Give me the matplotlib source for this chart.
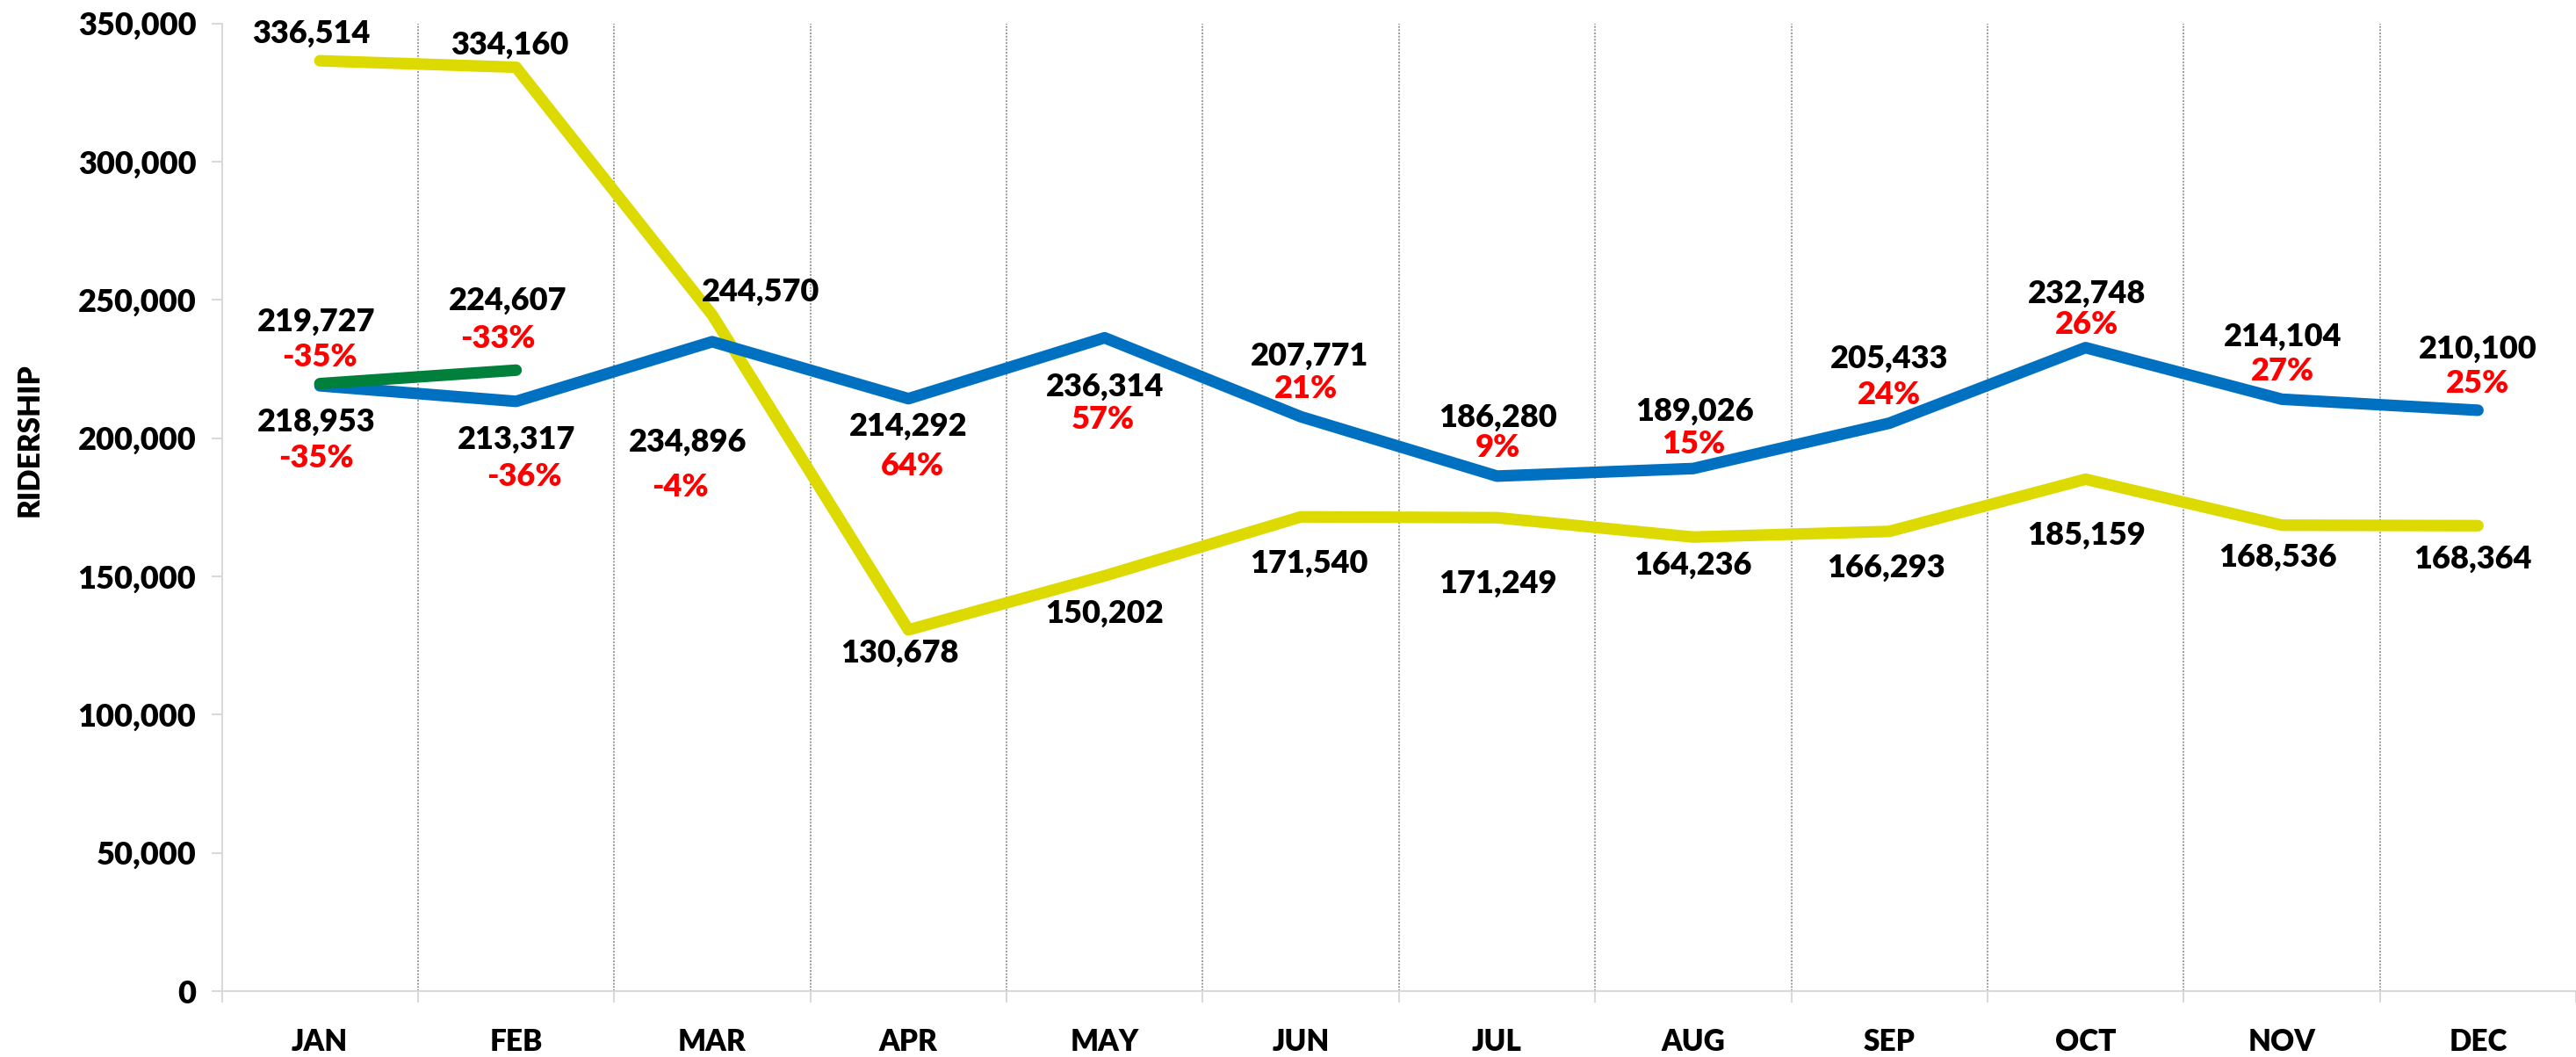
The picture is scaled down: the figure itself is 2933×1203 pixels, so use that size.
import numpy as np
import matplotlib
matplotlib.use("Agg")
import matplotlib.pyplot as plt
from matplotlib.ticker import FuncFormatter, FixedLocator

plt.rcParams["font.family"] = ["Lato", "DejaVu Sans"]
WEIGHT = 800

# --- data -------------------------------------------------------------
months = ["JAN", "FEB", "MAR", "APR", "MAY", "JUN",
          "JUL", "AUG", "SEP", "OCT", "NOV", "DEC"]

ridership_2020 = [336514, 334160, 244570, 130678, 150202, 171540,
                  171249, 164236, 166293, 185159, 168536, 168364]
ridership_2021 = [218953, 213317, 234896, 214292, 236314, 207771,
                  186280, 189026, 205433, 232748, 214104, 210100]
pct_2021 = ["-35%", "-36%", "-4%", "64%", "57%", "21%",
            "9%", "15%", "24%", "26%", "27%", "25%"]
ridership_2022 = [219727, 224607]
pct_2022 = ["-35%", "-33%"]

y_ticks = [0, 50000, 100000, 150000, 200000, 250000, 300000, 350000]

# --- label placement (offset points) -----------------------------------
off_2020 = [(-7, 22), (-5, 18), (40, 19), (-7, -19), (0, -31), (7, -38),
            (1, -54), (0, -23), (-3, -30), (1, -46), (-3, -26), (-4, -27)]
off_2021 = [(-3, -30), (0, -31), (-20, -82), (0, -23), (0, -40), (7, 50),
            (1, 48), (1, 47), (0, 53), (1, 44), (1, 51), (0, 50)]
off_2021_pct = [(-3, -59), (7, -62), (-26, -119), (3, -55), (-1, -67), (4, 23),
                (1, 23), (0, 20), (0, 23), (1, 19), (1, 23), (0, 22)]
off_2022 = [(-3, 51), (-7, 57)]
off_2022_pct = [(0, 22), (-15, 26)]

YELLOW = "#DCDA00"
BLUE = "#0070C0"
GREEN = "#00803A"
RED = "#FF0000"
GRID = "#D9D9D9"

fig = plt.figure(figsize=(29.33, 12.03), dpi=100)
ax = fig.add_axes([0.0861, 0.0623, 0.9139, 0.9155])

x = np.arange(len(months))
line_kw = dict(linewidth=9.5, solid_capstyle="round", solid_joinstyle="round")
ax.plot(x, ridership_2020, color=YELLOW, zorder=3, **line_kw)
ax.plot(x, ridership_2021, color=BLUE, zorder=4, **line_kw)
ax.plot(x[:len(ridership_2022)], ridership_2022, color=GREEN, zorder=5, **line_kw)

label_kw = dict(textcoords="offset points", ha="center", va="center",
                fontsize=26, fontweight=WEIGHT, zorder=6)


def fmt(v):
    return f"{v:,.0f}"


for i, v in enumerate(ridership_2020):
    ax.annotate(fmt(v), (x[i], v), xytext=off_2020[i], color="black", **label_kw)
for i, v in enumerate(ridership_2021):
    ax.annotate(fmt(v), (x[i], v), xytext=off_2021[i], color="black", **label_kw)
    ax.annotate(pct_2021[i], (x[i], v), xytext=off_2021_pct[i], color=RED, **label_kw)
for i, v in enumerate(ridership_2022):
    ax.annotate(fmt(v), (x[i], v), xytext=off_2022[i], color="black", **label_kw)
    ax.annotate(pct_2022[i], (x[i], v), xytext=off_2022_pct[i], color=RED, **label_kw)

# category separators (dotted)
for b in np.arange(0.5, len(months) - 0.5, 1):
    ax.axvline(b, color="#8C8C8C", linewidth=1.2, linestyle=(0, (1.2, 1.0)), zorder=1)

ax.set_xlim(-0.5, len(months) - 0.5)
ax.set_ylim(0, 350000)
ax.set_xticks(x)
ax.set_xticklabels(months, fontsize=24, fontweight=WEIGHT)
ax.xaxis.set_minor_locator(FixedLocator(np.arange(-0.5, len(months), 1)))
ax.tick_params(axis="x", which="major", length=0, pad=30)
ax.tick_params(axis="x", which="minor", length=9, width=1.5, color=GRID)

ax.set_yticks(y_ticks)
ax.yaxis.set_major_formatter(FuncFormatter(lambda v, p: f"{v:,.0f}"))
ax.tick_params(axis="y", length=9, width=1.5, color=GRID, pad=12, labelsize=26)
for lab in ax.get_yticklabels():
    lab.set_fontweight(WEIGHT)

for s in ["top", "right"]:
    ax.spines[s].set_visible(False)
for s in ["left", "bottom"]:
    ax.spines[s].set_color(GRID)
    ax.spines[s].set_linewidth(1.5)

fig.text(34 / 2933, 0.584, "RIDERSHIP", rotation=90, ha="center", va="center",
         fontsize=24, fontweight=WEIGHT)

fig.savefig("out.png", dpi=100)
